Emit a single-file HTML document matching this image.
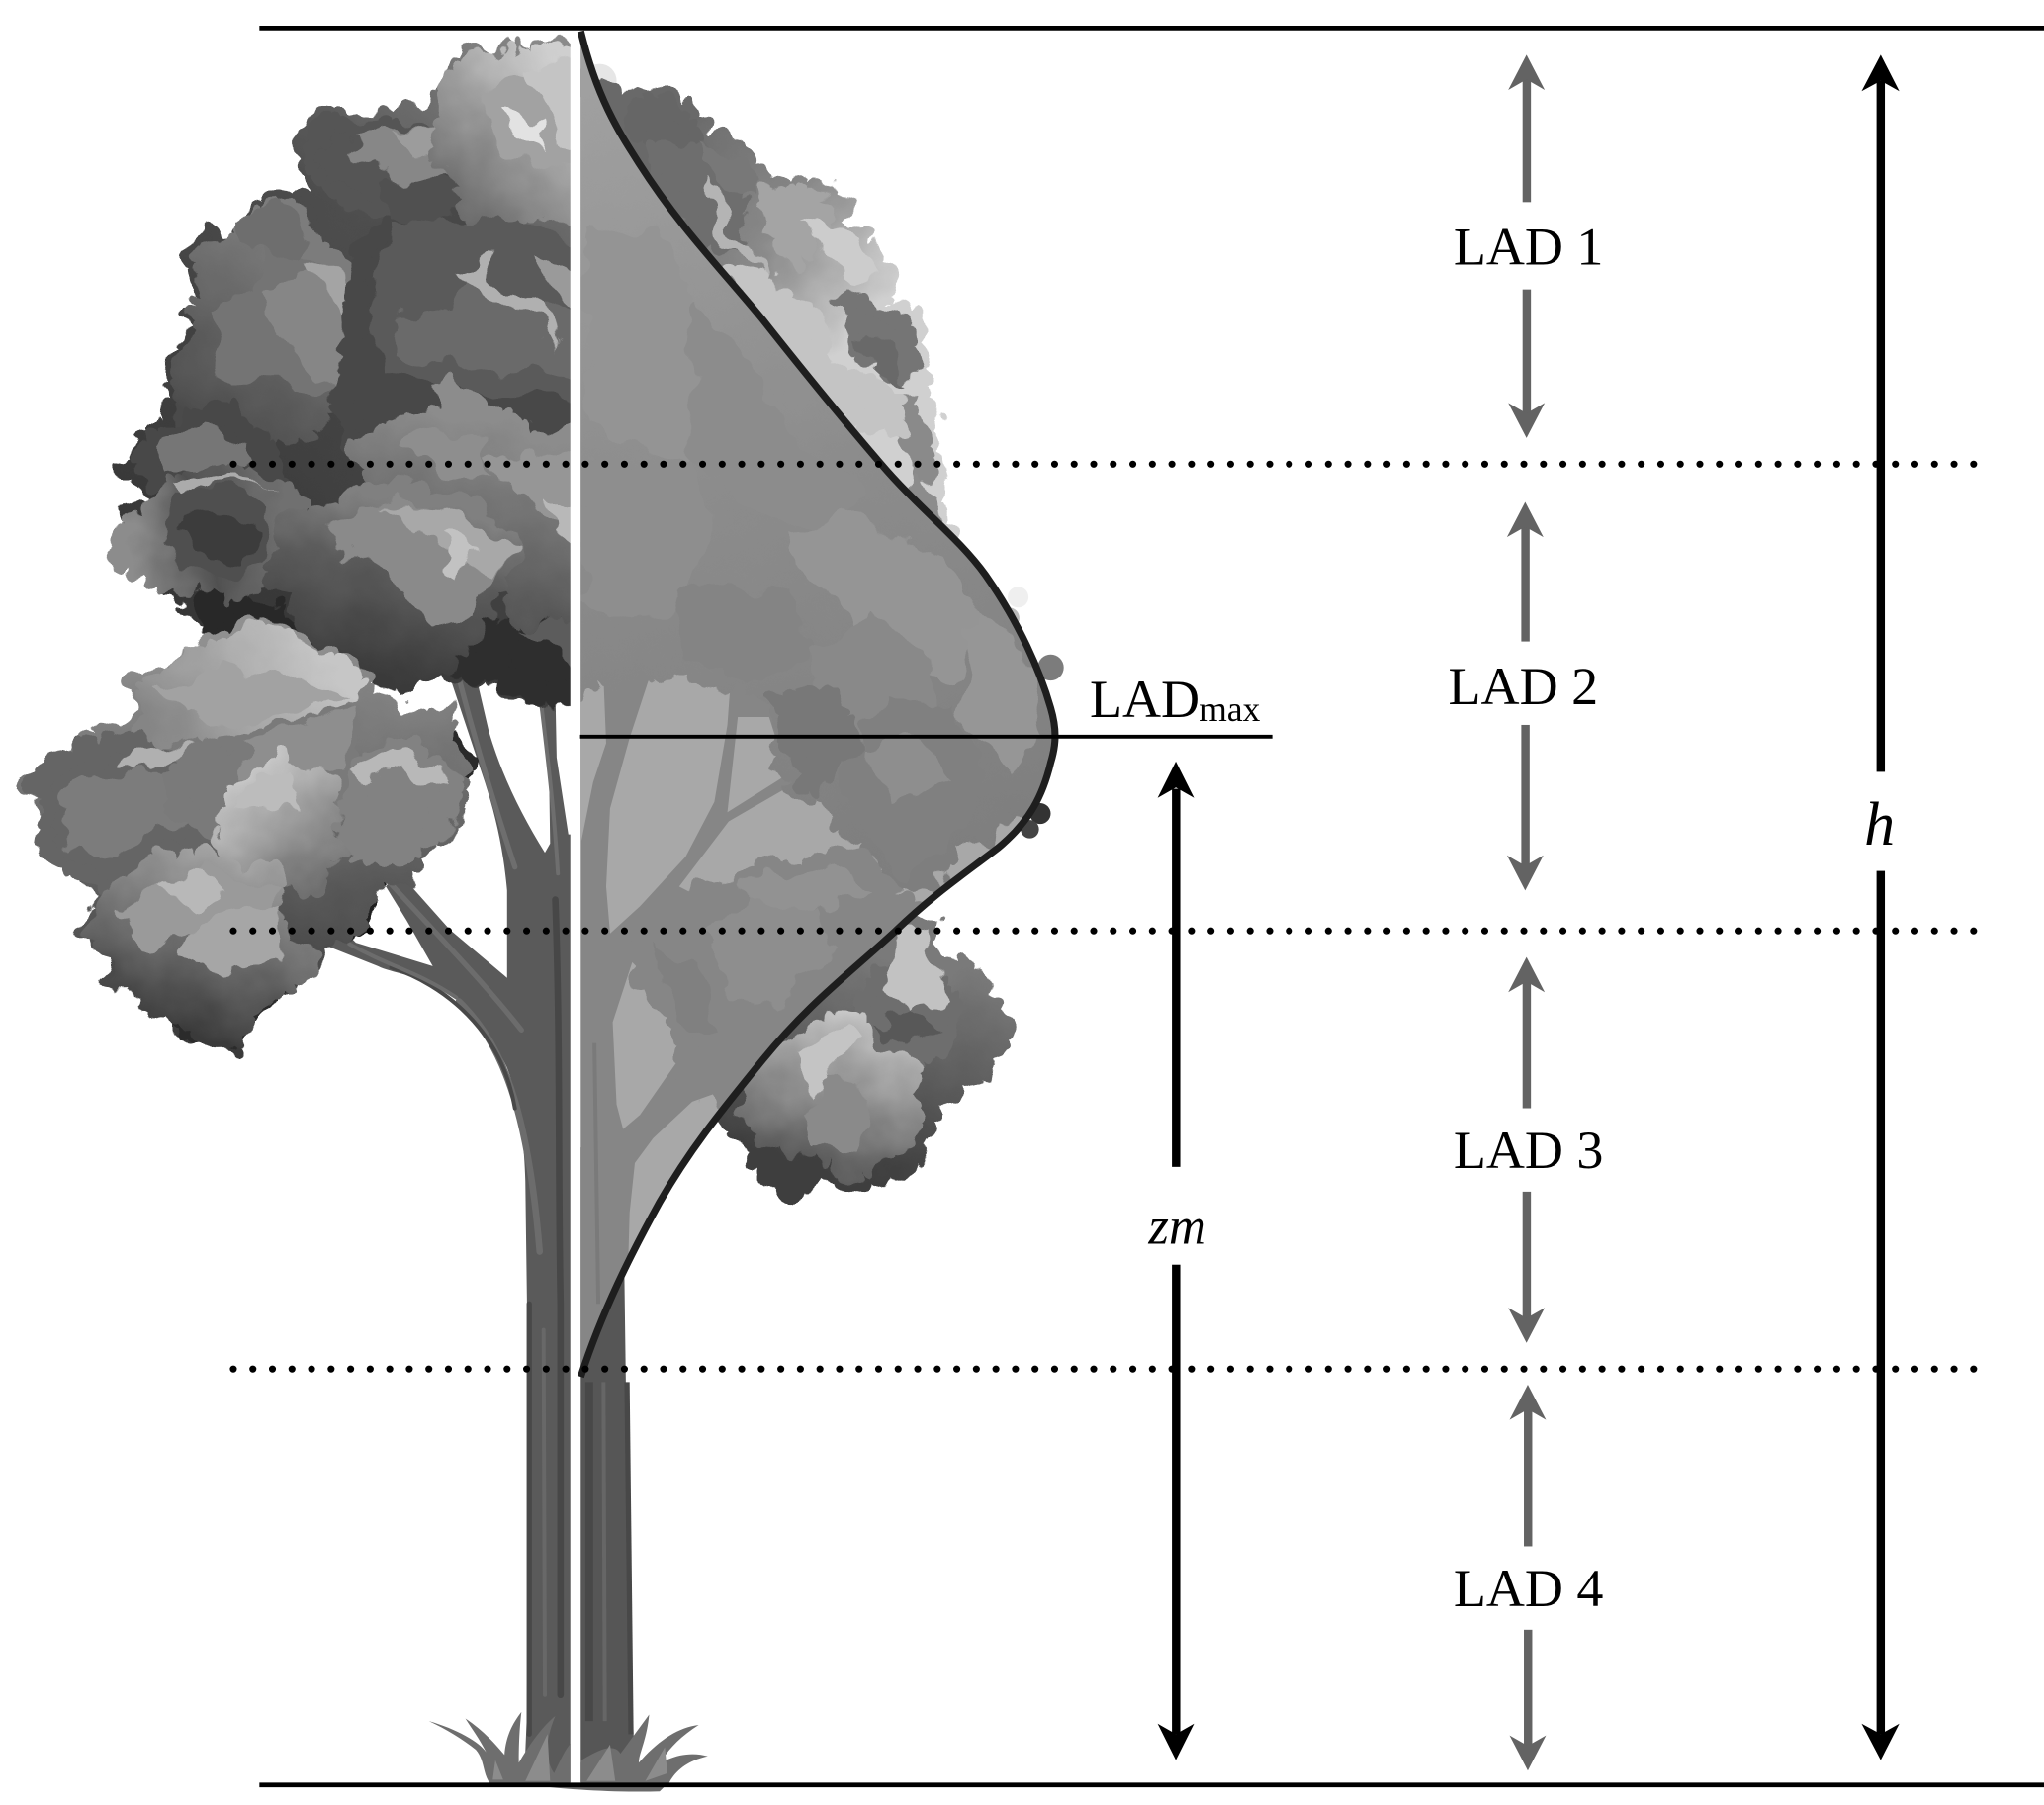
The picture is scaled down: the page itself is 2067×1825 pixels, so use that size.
<!DOCTYPE html>
<html><head><meta charset="utf-8">
<style>
html,body{margin:0;padding:0;background:#fff}
svg{display:block}
.b{stroke-dasharray:0 18;stroke-width:22;stroke-linecap:round;stroke-linejoin:round}
.m{stroke-dasharray:0 13;stroke-width:16;stroke-linecap:round;stroke-linejoin:round}
text{font-family:"Liberation Serif",serif;fill:#000}
</style></head>
<body>
<svg xmlns="http://www.w3.org/2000/svg" width="2067" height="1825" viewBox="0 0 1568 1384.4" preserveAspectRatio="none">
<defs>
<filter id="w" filterUnits="userSpaceOnUse" x="-60" y="-60" width="1700" height="1520" color-interpolation-filters="sRGB"><feTurbulence type="fractalNoise" baseFrequency=".03" numOctaves="3" seed="5" result="n"/><feDisplacementMap in="SourceGraphic" in2="n" scale="34" xChannelSelector="R" yChannelSelector="G"/></filter>
<linearGradient id="c1" gradientUnits="userSpaceOnUse" x1="130" y1="440" x2="436" y2="40"><stop offset="0" stop-color="#363636"/><stop offset=".6" stop-color="#4d4d4d"/><stop offset="1" stop-color="#8a8a8a"/></linearGradient>
<linearGradient id="c2" gradientUnits="userSpaceOnUse" x1="340" y1="150" x2="436" y2="50"><stop offset="0" stop-color="#6a6a6a"/><stop offset="1" stop-color="#cfcfcf"/></linearGradient>
<linearGradient id="c3" gradientUnits="userSpaceOnUse" x1="280" y1="520" x2="310" y2="385"><stop offset="0" stop-color="#3a3a3a"/><stop offset=".6" stop-color="#5a5a5a"/><stop offset="1" stop-color="#808080"/></linearGradient>
<linearGradient id="c4" gradientUnits="userSpaceOnUse" x1="360" y1="480" x2="400" y2="330"><stop offset="0" stop-color="#505050"/><stop offset="1" stop-color="#8c8c8c"/></linearGradient>
<linearGradient id="c5" gradientUnits="userSpaceOnUse" x1="150" y1="330" x2="240" y2="200"><stop offset="0" stop-color="#4a4a4a"/><stop offset="1" stop-color="#7c7c7c"/></linearGradient>
<linearGradient id="c6" gradientUnits="userSpaceOnUse" x1="100" y1="420" x2="215" y2="400"><stop offset="0" stop-color="#8c8c8c"/><stop offset=".5" stop-color="#505050"/><stop offset="1" stop-color="#707070"/></linearGradient>
<linearGradient id="l0" gradientUnits="userSpaceOnUse" x1="150" y1="490" x2="170" y2="800"><stop offset="0" stop-color="#909090"/><stop offset="1" stop-color="#3a3a3a"/></linearGradient>
<linearGradient id="l1" gradientUnits="userSpaceOnUse" x1="120" y1="570" x2="240" y2="490"><stop offset="0" stop-color="#858585"/><stop offset="1" stop-color="#c6c6c6"/></linearGradient>
<linearGradient id="l2" gradientUnits="userSpaceOnUse" x1="240" y1="680" x2="180" y2="590"><stop offset="0" stop-color="#6e6e6e"/><stop offset="1" stop-color="#cfcfcf"/></linearGradient>
<linearGradient id="l3" gradientUnits="userSpaceOnUse" x1="130" y1="790" x2="170" y2="650"><stop offset="0" stop-color="#3a3a3a"/><stop offset="1" stop-color="#a4a4a4"/></linearGradient>
<linearGradient id="r1" gradientUnits="userSpaceOnUse" x1="520" y1="100" x2="680" y2="220"><stop offset="0" stop-color="#696969"/><stop offset=".55" stop-color="#8a8a8a"/><stop offset="1" stop-color="#d0d0d0"/></linearGradient>
<linearGradient id="r2" gradientUnits="userSpaceOnUse" x1="640" y1="900" x2="680" y2="730"><stop offset="0" stop-color="#3e3e3e"/><stop offset="1" stop-color="#7a7a7a"/></linearGradient>
<linearGradient id="r3" gradientUnits="userSpaceOnUse" x1="600" y1="910" x2="640" y2="770"><stop offset="0" stop-color="#484848"/><stop offset="1" stop-color="#c8c8c8"/></linearGradient>
<linearGradient id="i1" gradientUnits="userSpaceOnUse" x1="500" y1="60" x2="640" y2="680"><stop offset="0" stop-color="#a0a0a0"/><stop offset=".5" stop-color="#8c8c8c"/><stop offset="1" stop-color="#7e7e7e"/></linearGradient>
<clipPath id="left"><rect x="0" y="0" width="437.5" height="1384"/></clipPath>
<clipPath id="right"><rect x="445.5" y="0" width="1122" height="1384"/></clipPath>
<clipPath id="curve"><path d="M445.5 24 C458 75 474 100 490 125 C522 175 552 205 585 245 C615 283 645 320 676 356 C705 390 735 412 756 441 C782 478 798 515 806 543 C811 560 810 572 806 585 C800 610 790 630 766 650 C740 670 716 686 687 714 C650 748 620 770 585 813 C555 850 530 880 506 922 C485 960 462 1005 445.5 1050 Z"/></clipPath>
</defs>
<rect width="1568" height="1384.4" fill="#fff"/>

<!-- LEFT HALF TREE -->
<g clip-path="url(#left)">
 <path d="M445 1367 L402 1367 L404 1320 L406 1130 L403 906 C402 870 397 840 389 819 C380 800 362 772 340 758 C320 748 300 746 290 741 L252 726 L250 700 L273 723 L332 741 L312 706 L296 680 L305 668 L345 713 L389 750 L389 683 C386 650 380 625 372 600 L343 513 L362 505 L375 561 C385 595 400 625 418 654 L422 647 L421 581 C418 560 414 540 408 520 L405 480 L425 480 L427 581 L436 640 L445 640 Z" fill="#5a5a5a"/>
 <g fill="none" stroke-linecap="round">
  <path d="M426 690 C430 800 428 900 430 1000 L430 1300" stroke="#474747" stroke-width="5"/>
  <path d="M406 1000 L406 1330" stroke="#484848" stroke-width="4"/>
  <path d="M417 1020 L418 1300" stroke="#686868" stroke-width="3"/>
  <path d="M352 768 C385 800 405 850 414 960" stroke="#6c6c6c" stroke-width="5"/>
  <path d="M300 742 C340 755 385 790 395 850" stroke="#484848" stroke-width="3"/>
  <path d="M352 520 C365 570 380 620 395 665" stroke="#6e6e6e" stroke-width="4"/>
  <path d="M414 530 C420 580 425 620 428 670" stroke="#6e6e6e" stroke-width="3"/>
  <path d="M298 676 C340 722 370 752 400 790" stroke="#6c6c6c" stroke-width="4"/>
  <path d="M268 724 C300 742 320 745 350 765" stroke="#6c6c6c" stroke-width="3"/>
 </g>

 <g filter="url(#w)">
 <!-- upper crown base -->
 <path class="b" d="M470 40 L426 39 L400 44 L368 40 L348 64 L346 78 L293 92 L240 94 L233 120 L250 152 L205 163 L182 166 L186 186 L160 188 L152 205 L164 230 L147 262 L137 298 L128 330 L103 348 L101 362 L122 382 L98 405 L106 422 L125 436 L142 458 L148 472 L170 476 L205 478 L260 498 L285 518 L340 514 L385 518 L412 535 L470 522 Z" fill="url(#c1)" stroke="url(#c1)"/>
 <path class="b" d="M345 500 L380 480 L470 480 L470 522 L412 535 L385 515 L350 515 Z" fill="#2e2e2e" stroke="#2e2e2e"/>
 <path d="M400 480 L470 480 L470 515 L440 510 L420 490 Z" fill="#5c5c5c"/>
 <path class="m" d="M150 468 L190 462 L230 490 L190 490 L160 482 Z" fill="#282828" stroke="#282828"/>
 <!-- top-left clump -->
 <path class="m" d="M245 100 L300 96 L345 105 L340 145 L300 170 L262 150 L240 125 Z" fill="#555" stroke="#555"/>
 <path d="M268 100 L345 95 L338 140 L305 138 L285 125 L262 118 Z" fill="#878787"/>
 <path d="M300 100 L345 95 L340 120 L315 118 Z" fill="#9c9c9c"/>
 <!-- left mid clump -->
 <path class="m" d="M160 215 L165 195 L185 165 L235 170 L270 210 L270 300 L240 330 L180 340 L135 320 L150 260 Z" fill="url(#c5)" stroke="url(#c5)"/>
 <path d="M160 240 L195 225 L210 190 L250 205 L268 225 L265 300 L225 305 L205 290 L175 290 Z" fill="#747474"/>
 <path d="M205 225 L240 210 L268 225 L265 300 L240 290 L215 260 Z" fill="#868686"/>
 <path d="M176 162 L215 162 L240 180 L225 200 L190 195 L178 185 Z" fill="#6e6e6e"/>
 <path d="M232 205 L256 205 L268 225 L260 245 L248 225 Z" fill="#a4a4a4"/>
 <!-- central dark -->
 <path class="b" d="M272 240 L280 190 L300 170 L340 145 L355 165 L372 185 L470 205 L470 355 L270 340 L262 290 Z" fill="#484848" stroke="#484848"/>
 <path d="M295 140 L345 135 L352 155 L330 175 L300 170 Z" fill="#505050"/>
 <path d="M300 175 L355 165 L400 170 L470 200 L470 310 L400 305 L350 300 L300 290 L280 250 Z" fill="#5a5a5a"/>
 <path d="M300 240 L345 235 L370 205 L410 235 L470 240 L470 300 L410 280 L360 285 L310 278 Z" fill="#6a6a6a"/>
 <path d="M352 205 L372 200 L390 215 L410 235 L432 270 L415 252 L395 235 L375 222 Z" fill="#b0b0b0"/>
 <path d="M408 200 L470 220 L470 245 L435 235 Z" fill="#9a9a9a"/>
 <!-- top clump -->
 <path class="m" d="M346 68 L372 42 L426 42 L470 42 L470 165 L400 165 L365 165 L345 130 L338 100 Z" fill="url(#c2)" stroke="url(#c2)"/>
 <path d="M368 72 L398 58 L470 50 L470 135 L420 122 L390 128 L375 105 Z" fill="#a2a2a2"/>
 <path d="M405 50 L470 45 L470 120 L428 105 L415 85 Z" fill="#c4c4c4"/>
 <path d="M385 88 L408 92 L412 112 L395 105 Z" fill="#e2e2e2"/>
 <!-- mid right clump -->
 <path class="m" d="M272 345 L318 322 L345 300 L375 318 L402 335 L470 330 L470 480 L395 470 L390 420 L350 385 L290 372 Z" fill="url(#c4)" stroke="url(#c4)"/>
 <path d="M300 340 L340 325 L368 335 L380 365 L345 365 L320 355 Z" fill="#8e8e8e"/>
 <path d="M375 350 L410 340 L470 355 L470 420 L425 400 L395 385 Z" fill="#969696"/>
 <path d="M420 385 L445 385 L445 420 L425 405 Z" fill="#b8b8b8"/>
 <!-- left lower clumps -->
 <path class="m" d="M107 345 L140 325 L180 318 L205 345 L210 378 L145 378 L112 372 Z" fill="#484848" stroke="#484848"/>
 <path d="M118 340 L155 325 L190 335 L200 358 L150 355 L122 362 Z" fill="#767676"/>
 <path class="m" d="M95 410 L130 372 L170 358 L225 382 L215 425 L190 455 L135 452 L98 430 Z" fill="url(#c6)" stroke="url(#c6)"/>
 <path d="M120 410 L135 385 L172 372 L205 392 L200 430 L175 445 L140 440 Z" fill="#4f4f4f"/>
 <path d="M135 405 L172 390 L195 402 L185 430 L152 428 Z" fill="#3c3c3c"/>
 <path d="M130 372 L172 362 L205 375 L170 368 L140 385 Z" fill="#ababab"/>
 <!-- front lower clump -->
 <path class="b" d="M222 402 L290 378 L355 388 L392 422 L368 470 L340 512 L290 520 L240 482 L210 442 Z" fill="url(#c3)" stroke="url(#c3)"/>
 <path d="M250 402 L312 385 L395 420 L360 470 L330 480 L310 445 L262 430 Z" fill="#8a8a8a"/>
 <path d="M300 390 L345 395 L395 420 L375 445 L340 425 Z" fill="#a8a8a8"/>
 <path d="M335 410 L372 425 L350 450 Z" fill="#c2c2c2"/>
 </g>

 <!-- LEFT CLUMP -->
 <g filter="url(#w)">
 <path class="m" d="M225 680 L270 665 L295 685 L280 705 L235 718 Z" fill="#202020" stroke="#202020"/>
 <path class="m" d="M338 572 L358 572 L350 592 L338 590 Z" fill="#2a2a2a" stroke="#2a2a2a"/>
 <path class="b" d="M205 490 L157 488 L146 508 L112 524 L108 552 L64 572 L48 588 L27 598 L32 625 L58 648 L76 690 L78 712 L86 748 L110 755 L135 775 L142 792 L170 798 L182 785 L214 756 L228 735 L252 715 L282 698 L310 660 L345 620 L350 596 L336 550 L305 546 L282 540 L270 520 L248 500 Z" fill="url(#l0)" stroke="url(#l0)"/>
 <path class="m" d="M28 598 L58 572 L120 565 L150 600 L145 650 L85 690 L35 640 Z" fill="#656565" stroke="#656565"/>
 <path d="M40 615 L70 590 L130 590 L145 630 L95 655 L60 650 Z" fill="#7c7c7c"/>
 <path class="m" d="M110 540 L150 498 L206 490 L255 505 L275 535 L240 550 L150 565 L108 560 Z" fill="url(#l1)" stroke="url(#l1)"/>
 <path d="M125 530 L175 510 L240 520 L268 540 L200 550 L135 555 Z" fill="#a2a2a2"/>
 <path d="M95 580 L130 570 L150 575 L110 590 Z" fill="#b0b0b0"/>
 <path class="m" d="M130 595 L180 565 L270 555 L275 610 L235 650 L170 640 L130 620 Z" fill="#7a7a7a" stroke="#7a7a7a"/>
 <path d="M185 565 L275 550 L265 590 L220 595 L190 590 Z" fill="#8e8e8e"/>
 <path class="m" d="M268 622 L282 582 L310 570 L345 590 L340 625 L318 648 L285 662 L268 650 Z" fill="#828282" stroke="#828282"/>
 <path d="M272 590 L300 575 L345 590 L340 605 L310 590 L285 600 Z" fill="#b8b8b8"/>
 <path class="m" d="M170 640 L178 612 L215 585 L250 600 L255 640 L240 680 L195 672 Z" fill="url(#l2)" stroke="url(#l2)"/>
 <path d="M180 620 L200 595 L225 590 L228 625 L200 625 Z" fill="#bcbcbc"/>
 <path class="m" d="M138 783 L165 745 L210 725 L222 752 L185 788 L165 800 L142 792 Z" fill="#2b2b2b" stroke="#2b2b2b"/>
 <path class="b" d="M80 695 L120 672 L150 655 L205 672 L212 720 L232 735 L214 756 L186 785 L168 798 L135 775 L105 755 L82 742 Z" fill="url(#l3)" stroke="url(#l3)"/>
 <path d="M95 700 L125 680 L160 662 L212 685 L215 715 L165 715 L110 725 Z" fill="#9a9a9a"/>
 <path d="M135 735 L155 705 L190 695 L218 700 L218 740 L180 745 Z" fill="#a6a6a6"/>
 <path d="M125 680 L150 665 L172 680 L150 695 Z" fill="#b8b8b8"/>
 </g>
</g>

<!-- RIGHT HALF TREE: outer parts -->
<g clip-path="url(#right)">
 <path d="M440 1367 L490 1367 L486 1330 L482 1200 L479 980 L481 880 L440 880 Z" fill="#565656"/>
 <g fill="none">
  <path d="M452 1060 L452 1320" stroke="#484848" stroke-width="6"/>
  <path d="M463 1060 L464 1320" stroke="#666" stroke-width="3"/>
  <path d="M481 1060 L484 1330" stroke="#484848" stroke-width="4"/>
 </g>
 <circle cx="460" cy="62" r="13" fill="#e6e6e6"/>
 <circle cx="781" cy="458" r="8" fill="#efefef"/><circle cx="774" cy="474" r="8" fill="#bcbcbc"/><circle cx="806" cy="512" r="10" fill="#7c7c7c"/><circle cx="798" cy="624" r="8" fill="#333"/><circle cx="790" cy="636" r="7" fill="#444"/>
 <g filter="url(#w)">
 <path class="b" d="M450 60 L486 88 L500 76 L520 80 L540 98 L540 115 L562 112 L584 140 L600 150 L622 145 L640 165 L640 178 L665 184 L675 208 L670 228 L692 238 L702 254 L700 298 L716 318 L716 350 L722 376 L715 420 L650 420 L500 200 Z" fill="url(#r1)" stroke="url(#r1)"/>
 <path class="m" d="M484 88 L505 78 L535 100 L532 120 L505 118 L490 105 Z" fill="#666" stroke="#666"/>
 <path class="m" d="M500 120 L540 118 L565 150 L570 185 L540 180 L515 150 Z" fill="#6e6e6e" stroke="#6e6e6e"/>
 <path d="M535 110 L560 118 L585 140 L578 155 L555 135 Z" fill="#787878"/>
 <path d="M540 130 L552 135 L560 170 L578 190 L590 215 L570 195 L548 175 Z" fill="#b4b4b4"/>
 <path class="m" d="M590 150 L625 150 L635 175 L610 195 L592 180 Z" fill="#a4a4a4" stroke="#a4a4a4"/>
 <path d="M620 170 L660 180 L672 205 L645 215 Z" fill="#cccccc"/>
 <path class="m" d="M645 228 L690 242 L698 270 L692 290 L662 270 Z" fill="#757575" stroke="#757575"/>
 <path d="M655 260 L690 265 L695 295 L670 285 Z" fill="#696969"/>
 <path class="m" d="M695 310 L712 330 L710 362 L692 345 Z" fill="#8a8a8a" stroke="#8a8a8a"/>
 <path class="m" d="M555 210 L600 218 L620 250 L640 285 L690 305 L690 340 L640 310 L590 260 Z" fill="#c4c4c4" stroke="#c4c4c4"/>
 <path d="M700 360 L722 370 L722 395 L705 395 Z" fill="#8c8c8c"/>
 </g>
 <!-- outer lower clump -->
 <g filter="url(#w)">
 <path class="b" d="M560 842 L570 876 L585 895 L612 912 L630 895 L670 903 L700 893 L712 860 L742 822 L765 808 L772 784 L752 766 L740 745 L712 740 L712 705 L690 716 L640 760 Z" fill="url(#r2)" stroke="url(#r2)"/>
 <path class="m" d="M648 790 L675 745 L712 745 L735 770 L722 800 L690 825 L660 830 Z" fill="#6e6e6e" stroke="#6e6e6e"/>
 <path d="M690 715 L714 710 L714 740 L725 765 L700 775 L680 755 Z" fill="#c2c2c2"/>
 <path class="m" d="M585 875 L575 850 L605 805 L640 775 L675 810 L700 815 L700 870 L670 895 L620 885 Z" fill="url(#r3)" stroke="url(#r3)"/>
 <path d="M605 850 L640 825 L665 840 L665 880 L620 885 Z" fill="#8a8a8a"/>
 <path d="M608 812 L640 790 L655 800 L640 830 L615 835 Z" fill="#c4c4c4"/>
 <path d="M670 790 L700 775 L720 785 L695 800 Z" fill="#585858"/>
 </g>
</g>

<!-- inside curve -->
<g clip-path="url(#curve)">
 <rect x="445" y="0" width="400" height="1100" fill="#868686"/>
 <g fill="#a8a8a8">
  <path d="M446 520 L463 520 L465 570 L455 600 L446 645 Z"/>
  <path d="M503 505 L483 566 L468 620 L465 680 L468 716 L491 695 L526 657 L548 615 L558 556 L561 515 Z"/>
  <path d="M558 623 L604 594 L590 550 L566 550 Z"/>
  <path d="M521 680 L559 630 L604 604 L680 600 L840 560 L840 720 L700 720 L560 700 Z"/>
  <path d="M485 738 L470 784 L473 847 L478 866 L491 855 L521 812 L516 770 Z"/>
  <path d="M501 873 L531 845 L559 835 L620 800 L600 880 L520 980 L481 1000 L483 930 L487 892 Z"/>
 </g>
 <g fill="none" stroke="#7a7a7a">
  <path d="M456 800 L459 1000" stroke-width="3"/>
  <path d="M446 1050 L464 1050" stroke-width="0"/>
 </g>
 <g filter="url(#w)">
  <path class="b" d="M440 0 L560 200 L680 340 L760 430 L830 520 L830 620 L770 622 L733 642 L728 656 L695 672 L675 650 L645 625 L632 596 L612 600 L600 586 L595 560 L590 530 L566 512 L546 525 L530 505 L503 505 L465 522 L440 525 Z" fill="url(#i1)" stroke="url(#i1)"/>
  <path d="M446 170 L500 180 L540 250 L575 320 L530 350 L446 330 Z" fill="#949494"/>
  <path d="M530 230 L570 270 L615 340 L660 370 L640 410 L570 390 L530 345 Z" fill="#8c8c8c"/>
  <path d="M446 360 L530 350 L550 400 L520 470 L470 480 L446 460 Z" fill="#8e8e8e"/>
  <path d="M600 410 L660 395 L720 430 L760 480 L730 520 L660 490 Z" fill="#959595"/>
  <path d="M520 460 L560 445 L605 450 L625 500 L570 520 L525 505 Z" fill="#848484"/>
  <path d="M620 500 L670 470 L710 500 L715 555 L650 570 L625 545 Z" fill="#898989"/>
  <path class="m" d="M595 540 L640 530 L655 565 L635 595 L610 595 Z" fill="#787878" stroke="#787878"/>
  <path d="M645 590 L680 540 L730 540 L760 600 L730 650 L695 670 L665 640 Z" fill="#808080"/>
  <path d="M660 570 L710 560 L730 600 L680 615 Z" fill="#8e8e8e"/>
  <path d="M750 470 L785 500 L800 560 L770 590 L735 550 Z" fill="#969696"/>
 </g>
 <g filter="url(#w)">
  <path class="b" d="M565 688 L590 668 L632 660 L672 666 L690 690 L720 700 L640 770 L570 850 L535 835 L528 805 L522 790 L492 745 L493 712 L508 700 L530 688 Z" fill="#868686" stroke="#868686"/>
  <path d="M540 720 L580 690 L625 700 L640 730 L600 770 L555 765 Z" fill="#8e8e8e"/>
  <path d="M570 680 L640 665 L672 680 L630 700 L580 695 Z" fill="#929292"/>
  <path d="M500 725 L540 740 L550 790 L520 780 Z" fill="#808080"/>
 </g>
</g>

<!-- curve -->
<path d="M445.5 24 C458 75 474 100 490 125 C522 175 552 205 585 245 C615 283 645 320 676 356 C705 390 735 412 756 441 C782 478 798 515 806 543 C811 560 810 572 806 585 C800 610 790 630 766 650 C740 670 716 686 687 714 C650 748 620 770 585 813 C555 850 530 880 506 922 C485 960 462 1005 445.5 1056" fill="none" stroke="#1e1e1e" stroke-width="5.4"/>

<!-- grass and ground -->
<path d="M406 1369 L511 1369 L506 1374 C470 1375 430 1372 406 1369 Z" fill="#6a6a6a"/>
<g clip-path="url(#left)">
 <path d="M329 1320 C350 1326 368 1336 373 1344 C368 1334 362 1326 357 1318 C372 1328 382 1340 387 1346 C388 1332 393 1322 400 1313 C398 1330 398 1345 398 1352 C405 1340 415 1325 426 1316 C418 1335 418 1350 425 1360 C430 1350 434 1340 440 1335 L440 1368 L376 1368 C370 1360 372 1350 365 1342 C355 1334 342 1326 329 1320 Z" fill="#6e6e6e"/>
 <path d="M403 1366 L420 1330 L422 1366 Z M378 1365 L380 1350 L386 1365 Z" fill="#8c8c8c"/>
</g>
<g clip-path="url(#right)">
 <path d="M440 1368 L446 1350 C455 1345 470 1335 476 1345 L498 1315 C496 1335 490 1345 490 1352 C505 1335 520 1325 536 1323 C522 1332 512 1342 507 1352 C520 1345 532 1344 543 1347 C528 1350 518 1358 513 1368 Z" fill="#6e6e6e"/>
 <path d="M450 1366 L468 1338 L472 1366 Z M495 1366 L510 1340 L512 1360 Z" fill="#8c8c8c"/>
</g>

<!-- horizontal lines -->
<path d="M199 21.5H1568M199 1369H1568" stroke="#000" stroke-width="3.6" fill="none"/>
<path d="M445 565H976" stroke="#000" stroke-width="3" fill="none"/>
<path d="M179 356H1518M179 714H1518M179 1050H1518" stroke="#000" stroke-width="5.4" stroke-dasharray="0 15" stroke-linecap="round" fill="none"/>

<!-- black arrows -->
<g fill="#000">
 <rect x="899" y="605" width="6.4" height="290"/><path d="M902 584 L916 612 L902 604 L888 612 Z"/>
 <rect x="899" y="970" width="6.4" height="360"/><path d="M902 1350 L916 1322 L902 1330 L888 1322 Z"/>
 <rect x="1439.5" y="62" width="6.4" height="530"/><path d="M1442.7 42 L1457 70 L1442.7 62 L1428 70 Z"/>
 <rect x="1439.5" y="668" width="6.4" height="662"/><path d="M1442.7 1350 L1457 1322 L1442.7 1330 L1428 1322 Z"/>
</g>
<!-- grey arrows -->
<g fill="#636363">
 <rect x="1168" y="60" width="6.4" height="95"/><path d="M1171 42 L1185 69 L1171 61 L1157 69 Z"/>
 <rect x="1168" y="222" width="6.4" height="96"/><path d="M1171 336 L1185 309 L1171 317 L1157 309 Z"/>
 <rect x="1167" y="403" width="6.4" height="89"/><path d="M1170 385 L1184 412 L1170 404 L1156 412 Z"/>
 <rect x="1167" y="556" width="6.4" height="109"/><path d="M1170 683 L1184 656 L1170 664 L1156 656 Z"/>
 <rect x="1168" y="752" width="6.4" height="98"/><path d="M1171 734 L1185 761 L1171 753 L1157 761 Z"/>
 <rect x="1168" y="914" width="6.4" height="98"/><path d="M1171 1030 L1185 1003 L1171 1011 L1157 1003 Z"/>
 <rect x="1169" y="1080" width="6.4" height="106"/><path d="M1172 1062 L1186 1089 L1172 1081 L1158 1089 Z"/>
 <rect x="1169" y="1250" width="6.4" height="90"/><path d="M1172 1358 L1186 1331 L1172 1339 L1158 1331 Z"/>
</g>

<!-- labels -->
<text x="1115" y="203" font-size="41">LAD 1</text>
<text x="1111" y="540" font-size="41">LAD 2</text>
<text x="1115" y="896" font-size="41">LAD 3</text>
<text x="1115" y="1232" font-size="41">LAD 4</text>
<text x="836" y="550" font-size="41">LAD<tspan font-size="27" dy="3">max</tspan></text>
<text x="881" y="954" font-size="40" font-style="italic">z<tspan>m</tspan></text>
<text x="1430" y="648" font-size="47" font-style="italic">h</text>
</svg>
</body></html>
